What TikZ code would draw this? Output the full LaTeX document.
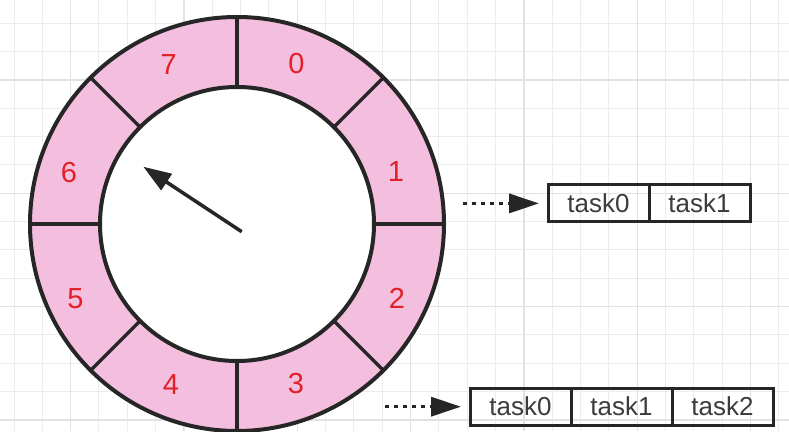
\documentclass[tikz,border=0pt]{standalone}
\usepackage{fontspec}
\setmainfont{Liberation Sans}
\usepackage{tikz}
\usetikzlibrary{arrows.meta,positioning}

\definecolor{ringpink}{RGB}{244,190,222}
\definecolor{digitred}{RGB}{226,32,40}
\definecolor{inkgray}{RGB}{38,38,38}
\definecolor{gridminor}{RGB}{236,236,236}
\definecolor{gridmajor}{RGB}{226,226,226}

\begin{document}
\begin{tikzpicture}[x=1pt,y=1pt,>={Triangle[length=30pt,width=19pt]},
                    semithick]
  \tikzstyle{slot}=[draw=inkgray,line width=3pt,minimum width=101pt,
                    minimum height=37pt,inner sep=0pt,outer sep=0pt,
                    text=inkgray!90,font=\fontsize{26}{30}\selectfont]
  \tikzstyle{digit}=[text=digitred,font=\fontsize{29}{33}\selectfont]
  \tikzstyle{hook}=[->,inkgray,line width=3.5pt,dash pattern=on 3.5pt off 5.5pt,
                    shorten >=9pt]

  \useasboundingbox (0,0) rectangle (789,431);
  \clip (0,0) rectangle (789,431);
  \fill[white] (0,0) rectangle (789,431);

  % background grid
  \foreach \i in {0,...,27}
    \draw[gridminor,line width=1pt] ({14+28.33*\i},0) -- ++(0,431);
  \foreach \i in {0,...,15}
    \draw[gridminor,line width=1pt] (0,{407.7-28.33*\i}) -- ++(789,0);
  \foreach \i in {0,...,6}
    \draw[gridmajor,line width=1.2pt] ({70.7+113.33*\i},0) -- ++(0,431);
  \foreach \i in {0,...,3}
    \draw[gridmajor,line width=1.2pt] (0,{351-113.33*\i}) -- ++(789,0);

  % the wheel
  \coordinate (c) at (237,207);
  \fill[ringpink] (c) circle (208pt);
  \fill[white] (c) circle (137pt);
  \foreach \a in {0,45,...,315}
    \draw[inkgray,line width=3.5pt] ([shift={(\a:137pt)}]c) -- ([shift={(\a:208pt)}]c);
  \draw[inkgray,line width=4pt] (c) circle (207pt) (c) circle (137pt);

  \foreach \k/\dx/\dy in {0/59.5/160.5, 1/159/52.3, 2/160/-74, 3/59/-159.3,
                          4/-66/-161, 5/-161.5/-74.3, 6/-168/51.3, 7/-68.4/159}
    \node[digit] (n\k) at ([shift={(\dx,\dy)}]c) {\k};

  % pointer
  \coordinate (hub) at (241.7,199.3);
  \coordinate (hand) at (143.3,264.3);
  \draw[-{Triangle[length=28pt,width=19pt]},inkgray,line width=3.5pt] (hub) -- (hand);

  % task lists
  \node[slot] (a0) at (598.5,227.6) {task0};
  \node[slot,right=0pt of a0] (a1) {task1};

  \node[slot] (b0) at (520.5,24.3) {task0};
  \node[slot,right=0pt of b0] (b1) {task1};
  \node[slot,right=0pt of b1] (b2) {task2};

  \coordinate (s1) at (463,227.6);
  \coordinate (s2) at (385,24.3);
  \draw[hook] (s1) -- (a0.west);
  \draw[hook] (s2) -- (b0.west);

\end{tikzpicture}
\end{document}
